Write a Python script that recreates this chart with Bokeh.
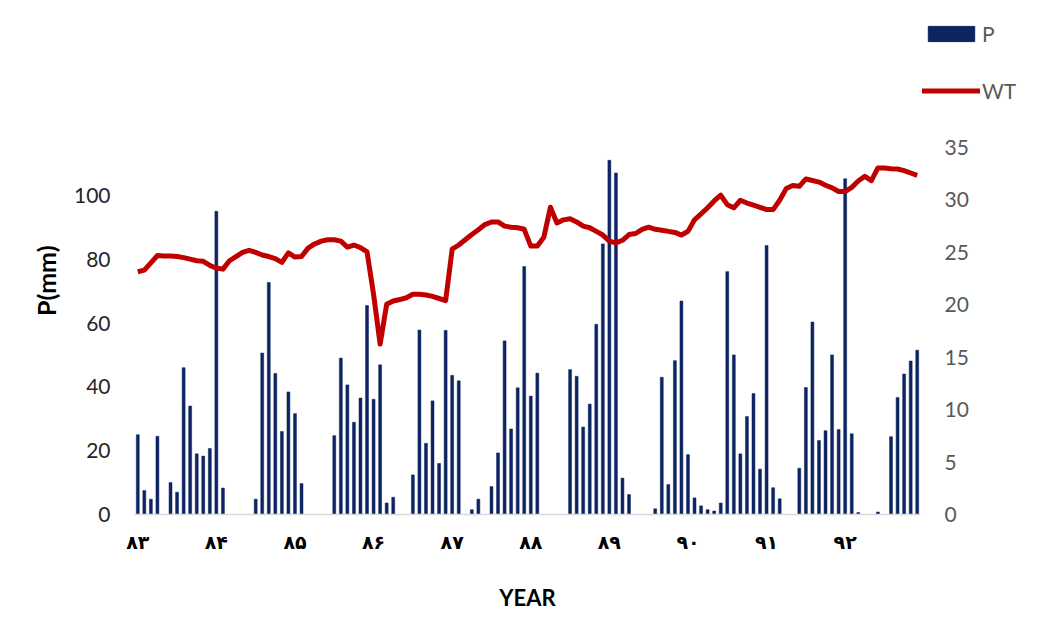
from bokeh.plotting import figure
from bokeh.models import Range1d, LinearAxis, FixedTicker, Legend, LegendItem, ColumnDataSource, Title
from bokeh.layouts import column
from bokeh.embed import file_html
from bokeh.resources import INLINE

# Monthly precipitation P (mm), 120 months from year 83 to 92
P = [25, 7.5, 4.8, 24.5, 0, 10, 7, 46, 34, 19, 18.3, 20.7,
     95, 8.3, 0, 0, 0, 0, 4.8, 50.6, 72.7, 44.2, 26, 38.4,
     31.6, 9.7, 0, 0, 0, 0, 24.7, 49, 40.6, 28.9, 36.5, 65.5,
     36.1, 46.9, 3.6, 5.4, 0, 0, 12.4, 57.8, 22.3, 35.6, 16, 57.7,
     43.6, 41.9, 0, 1.5, 4.8, 0, 8.75, 19.3, 54.4, 26.8, 39.7, 77.7,
     37.1, 44.3, 0, 0, 0, 0, 45.4, 43.3, 27.4, 34.6, 59.6, 84.8,
     111, 107, 11.4, 6.25, 0, 0, 0, 1.8, 43, 9.4, 48.2, 66.9,
     18.75, 5.2, 2.7, 1.5, 1.1, 3.6, 76.1, 50, 19, 30.7, 37.9, 14.2,
     84.3, 8.4, 4.9, 0, 0, 14.5, 39.8, 60.3, 23.2, 26.25, 50, 26.6,
     105.2, 25.3, 0.6, 0, 0, 0.8, 0, 24.4, 36.7, 44, 48.1, 51.5]

# Water table WT (right axis)
WT = [23.15, 23.3, 24.0, 24.7, 24.65, 24.65, 24.6, 24.5, 24.35, 24.2, 24.15, 23.75,
      23.5, 23.4, 24.2, 24.6, 25.0, 25.2, 25.0, 24.75, 24.6, 24.4, 24.05, 24.95,
      24.55, 24.6, 25.4, 25.8, 26.07, 26.2, 26.2, 26.07, 25.5, 25.7, 25.45, 25.05,
      21.0, 16.25, 20.05, 20.36, 20.5, 20.67, 21.0, 21.0, 20.93, 20.8, 20.6, 20.4,
      25.3, 25.7, 26.2, 26.7, 27.15, 27.65, 27.9, 27.9, 27.5, 27.4, 27.35, 27.2,
      25.6, 25.6, 26.45, 29.3, 27.8, 28.1, 28.2, 27.9, 27.5, 27.35, 27.0, 26.65,
      26.07, 25.9, 26.15, 26.7, 26.8, 27.2, 27.4, 27.2, 27.1, 27.0, 26.9, 26.65,
      27.0, 28.1, 28.67, 29.25, 29.9, 30.45, 29.55, 29.25, 29.97, 29.7, 29.5, 29.3,
      29.08, 29.08, 29.97, 31.08, 31.37, 31.3, 32.0, 31.85, 31.7, 31.4, 31.15, 30.8,
      30.8, 31.2, 31.8, 32.25, 31.85, 33.05, 33.05, 32.98, 32.95, 32.8, 32.57, 32.35]

YEAR_LABELS = ["۸۳", "۸۴", "۸۵", "۸۶", "۸۷", "۸۸", "۸۹", "۹۰", "۹۱", "۹۲"]

BAR_COLOR = "#0C2461"
LINE_COLOR = "#C00000"
TOTAL_W = 1030
TOP_H = 115

month = list(range(len(P)))
src = ColumnDataSource(dict(x=month, p=P, wt=WT))

p = figure(frame_width=786, frame_height=367,
           min_border_left=134, min_border_top=147 - TOP_H, min_border_right=TOTAL_W - 134 - 786,
           min_border_bottom=110,
           x_range=Range1d(-0.5, len(P) - 0.5), y_range=Range1d(0, 115),
           output_backend="svg", toolbar_location=None)
p.outline_line_color = None
p.xgrid.grid_line_color = None
p.ygrid.grid_line_color = None

p.extra_y_ranges = {"wt": Range1d(0, 35)}

bars = p.vbar(x="x", top="p", width=0.45, source=src, fill_color=BAR_COLOR, line_color=BAR_COLOR, line_width=0.5)
line = p.line(x="x", y="wt", source=src, y_range_name="wt", line_color=LINE_COLOR, line_width=5, line_join="round")

tick_font = "Lato"
# x axis
xa = p.xaxis[0]
xa.ticker = FixedTicker(ticks=[12 * i for i in range(len(YEAR_LABELS))])
xa.major_label_overrides = {12 * i: lab for i, lab in enumerate(YEAR_LABELS)}
xa.major_label_text_font = "DejaVu Sans"
xa.major_label_text_font_style = "bold"
xa.major_label_text_font_size = "19px"
xa.major_label_text_color = "black"
xa.major_label_standoff = 10
xa.major_tick_line_color = None
xa.minor_tick_line_color = None
xa.axis_line_color = "#D9D9D9"
xa.axis_line_width = 1.5
xa.axis_label = "YEAR"
xa.axis_label_text_font = "Lato"
xa.axis_label_text_font_style = "bold"
xa.axis_label_text_font_size = "22px"
xa.axis_label_text_color = "black"
xa.axis_label_standoff = 28

# left axis
ya = p.yaxis[0]
ya.ticker = FixedTicker(ticks=[0, 20, 40, 60, 80, 100])
ya.major_label_text_font = tick_font
ya.major_label_text_font_size = "21px"
ya.major_label_text_color = "#262626"
ya.major_label_standoff = 18
ya.major_tick_line_color = None
ya.minor_tick_line_color = None
ya.axis_line_color = None

# left axis title, placed as in the reference (above centre)
ytitle = Title(text="P(mm)", align="right", offset=98, vertical_align="bottom", standoff=20,
               text_font="Lato", text_font_style="bold", text_font_size="25px", text_color="black")
p.add_layout(ytitle, "left")

# right axis
ra = LinearAxis(y_range_name="wt", ticker=FixedTicker(ticks=[0, 5, 10, 15, 20, 25, 30, 35]))
ra.major_label_text_font = tick_font
ra.major_label_text_font_size = "21px"
ra.major_label_text_color = "#595959"
ra.major_label_standoff = 18
ra.major_tick_line_color = None
ra.minor_tick_line_color = None
ra.axis_line_color = None
p.add_layout(ra, "right")

# Legend strip above the chart
lg = figure(frame_width=TOTAL_W, frame_height=TOP_H, min_border=0,
            x_range=Range1d(0, 1), y_range=Range1d(0, 1),
            x_axis_location=None, y_axis_location=None,
            output_backend="svg", toolbar_location=None)
lg.outline_line_color = None
lg.xgrid.grid_line_color = None
lg.ygrid.grid_line_color = None
lsrc = ColumnDataSource(dict(x=[5, 6], y=[5, 6]))
lb = lg.vbar(x="x", top="y", width=0.5, source=lsrc, fill_color=BAR_COLOR, line_color=BAR_COLOR)
ll = lg.line(x="x", y="y", source=lsrc, line_color=LINE_COLOR, line_width=5, line_cap="round")

legend = Legend(items=[LegendItem(label="P", renderers=[lb]),
                       LegendItem(label="WT", renderers=[ll])],
                location=(922, 12), orientation="vertical",
                glyph_width=58, glyph_height=19, label_height=19,
                spacing=32, padding=0, margin=0, label_standoff=2,
                label_text_font=tick_font, label_text_font_size="21px",
                label_text_color="#595959",
                border_line_color=None, background_fill_alpha=0)
lg.add_layout(legend, "center")

layout = column(lg, p, spacing=0)
open("out.html", "w").write(file_html(layout, INLINE))
